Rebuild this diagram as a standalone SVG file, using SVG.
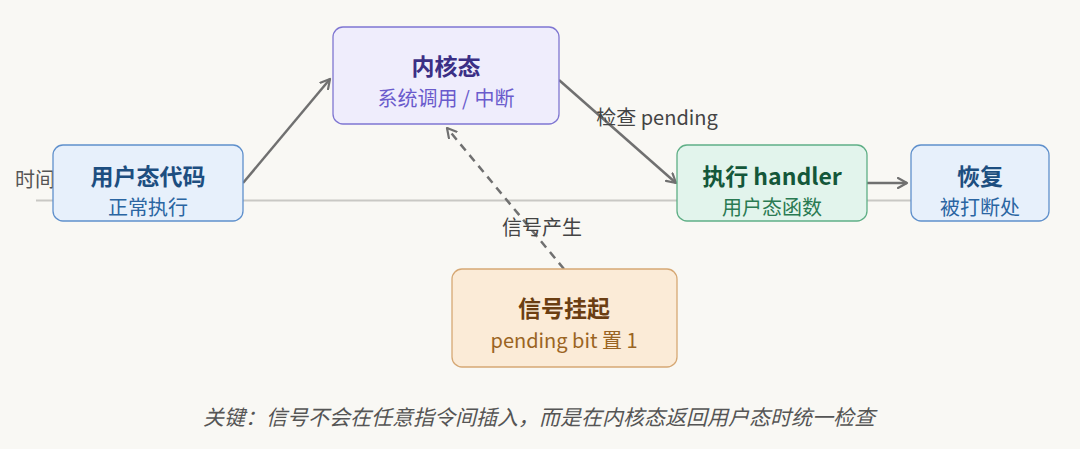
<svg xmlns="http://www.w3.org/2000/svg" width="1080" height="449" viewBox="0 0 1080 449">
<defs>
<marker id="arr" viewBox="0 0 12 12" refX="10" refY="6" markerWidth="12" markerHeight="12" markerUnits="userSpaceOnUse" orient="auto">
<path d="M1,1 L10,6 L1,11" fill="none" stroke="#707070" stroke-width="2.2" stroke-linecap="round" stroke-linejoin="round"/>
</marker>
<marker id="arrd" viewBox="0 0 12 12" refX="10" refY="6" markerWidth="12" markerHeight="12" markerUnits="userSpaceOnUse" orient="auto">
<path d="M1,1 L10,6 L1,11" fill="none" stroke="#707070" stroke-width="2.2" stroke-linecap="round" stroke-linejoin="round"/>
</marker>
</defs>
<style>
text{font-family:"Noto Sans CJK SC","Noto Sans",sans-serif;text-anchor:middle}
.t{font-size:23px;font-weight:600}
.s{font-size:20px}
.lbl{font-size:20px;fill:#444}
.box{stroke-width:1.3}
.conn{stroke:#707070;stroke-width:2.5;fill:none}
</style>
<rect width="1080" height="449" fill="#f9f8f4"/>
<g id="timeline">
<line x1="36" y1="200.5" x2="1045" y2="200.5" stroke="#c9c8c4" stroke-width="2"/>
<text x="15" y="187" style="text-anchor:start;font-size:20px;fill:#555">时间</text>
</g>
<g id="connectors">
<line class="conn" x1="243" y1="183" x2="330" y2="79" marker-end="url(#arr)"/>
<line class="conn" x1="559" y1="80" x2="676" y2="183" marker-end="url(#arr)"/>
<line class="conn" x1="867" y1="183" x2="907" y2="183" marker-end="url(#arr)"/>
<line class="conn" x1="564" y1="269" x2="447" y2="128" stroke-dasharray="8,6" marker-end="url(#arrd)"/>
<text class="lbl" x="657" y="125">检查 pending</text>
<text class="lbl" x="542" y="235">信号产生</text>
</g>
<g id="user">
<rect class="box" x="53" y="145" width="190" height="76" rx="10" fill="#e7f0fb" stroke="#5f90cc"/>
<text class="t" x="148" y="185" fill="#1d4e80">用户态代码</text>
<text class="s" x="148" y="215" fill="#2a65a2">正常执行</text>
</g>
<g id="kernel">
<rect class="box" x="333" y="27" width="226" height="97" rx="10" fill="#efedfc" stroke="#7f76d2"/>
<text class="t" x="446" y="75" fill="#3b2f85">内核态</text>
<text class="s" x="446" y="106" fill="#6a5bcc">系统调用 / 中断</text>
</g>
<g id="handler">
<rect class="box" x="677" y="145" width="190" height="76" rx="10" fill="#e2f4ec" stroke="#5faf86"/>
<text class="t" x="772" y="185" fill="#14573a">执行 handler</text>
<text class="s" x="772" y="215" fill="#2a7a52">用户态函数</text>
</g>
<g id="resume">
<rect class="box" x="911" y="145" width="138" height="76" rx="10" fill="#e7f0fb" stroke="#5f90cc"/>
<text class="t" x="980" y="185" fill="#1d4e80">恢复</text>
<text class="s" x="980" y="215" fill="#2a65a2">被打断处</text>
</g>
<g id="pending">
<rect class="box" x="452" y="269" width="225" height="98" rx="10" fill="#fbebd7" stroke="#d6a874"/>
<text class="t" x="564" y="317" fill="#6b3e12">信号挂起</text>
<text class="s" x="564" y="348" fill="#9a6422">pending bit 置 1</text>
</g>
<g id="caption">
<text x="539" y="425" style="font-size:21px;font-style:italic;fill:#555">关键：信号不会在任意指令间插入，而是在内核态返回用户态时统一检查</text>
</g>
</svg>
